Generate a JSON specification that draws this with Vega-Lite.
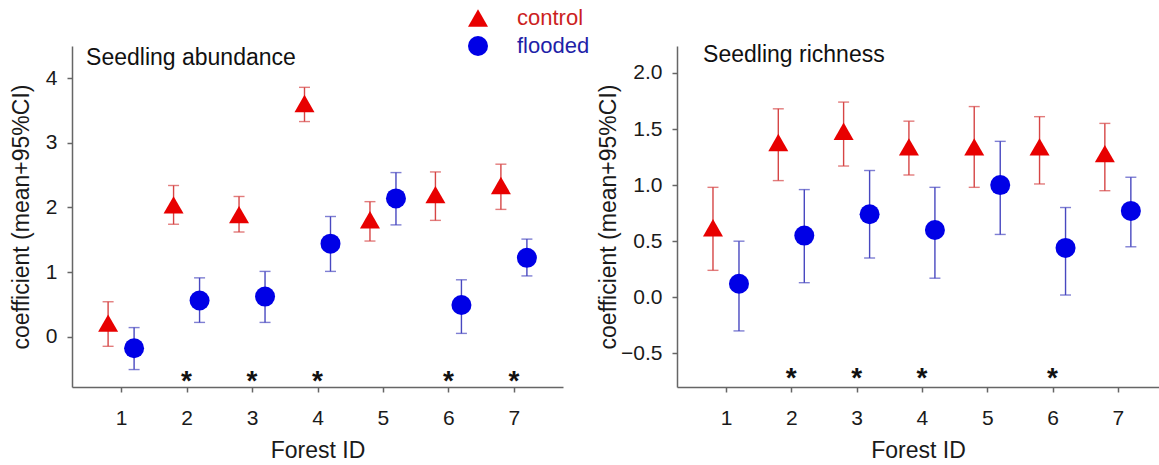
{
  "$schema": "https://vega.github.io/schema/vega-lite/v6.json",
  "padding": {"left": 10, "top": 7, "right": 0, "bottom": 0},
  "background": "white",
  "config": {
    "font": "Liberation Sans",
    "view": {"stroke": null},
    "axis": {
      "grid": false,
      "domainColor": "#666666",
      "domainWidth": 1.5,
      "tickColor": "#666666",
      "tickWidth": 1.5,
      "tickSize": 5,
      "labelFont": "Liberation Sans",
      "labelFontSize": 21,
      "labelColor": "#1a1a1a",
      "titleFont": "Liberation Sans",
      "titleFontSize": 23,
      "titleFontWeight": "normal",
      "titleColor": "#1a1a1a"
    },
    "legend": {
      "orient": "none",
      "legendX": 395,
      "legendY": -39,
      "symbolSize": 400,
      "symbolOpacity": 1,
      "labelFontSize": 22,
      "labelFont": "Liberation Sans",
      "labelOffset": 28,
      "rowPadding": 6,
      "padding": 0
    }
  },
  "datasets": {
    "abundance": [
      {"forest": 1, "group": "control", "mean": 0.21, "lo": -0.15, "hi": 0.54},
      {"forest": 2, "group": "control", "mean": 2.04, "lo": 1.74, "hi": 2.34},
      {"forest": 3, "group": "control", "mean": 1.89, "lo": 1.62, "hi": 2.17},
      {"forest": 4, "group": "control", "mean": 3.61, "lo": 3.33, "hi": 3.86},
      {"forest": 5, "group": "control", "mean": 1.81, "lo": 1.48, "hi": 2.09},
      {"forest": 6, "group": "control", "mean": 2.20, "lo": 1.80, "hi": 2.55},
      {"forest": 7, "group": "control", "mean": 2.34, "lo": 1.97, "hi": 2.67},
      {"forest": 1, "group": "flooded", "mean": -0.18, "lo": -0.51, "hi": 0.14},
      {"forest": 2, "group": "flooded", "mean": 0.56, "lo": 0.22, "hi": 0.91},
      {"forest": 3, "group": "flooded", "mean": 0.62, "lo": 0.22, "hi": 1.01},
      {"forest": 4, "group": "flooded", "mean": 1.44, "lo": 1.01, "hi": 1.86},
      {"forest": 5, "group": "flooded", "mean": 2.14, "lo": 1.73, "hi": 2.54},
      {"forest": 6, "group": "flooded", "mean": 0.49, "lo": 0.05, "hi": 0.88},
      {"forest": 7, "group": "flooded", "mean": 1.22, "lo": 0.94, "hi": 1.51}
    ],
    "richness": [
      {"forest": 1, "group": "control", "mean": 0.62, "lo": 0.24, "hi": 0.98},
      {"forest": 2, "group": "control", "mean": 1.38, "lo": 1.04, "hi": 1.68},
      {"forest": 3, "group": "control", "mean": 1.48, "lo": 1.17, "hi": 1.74},
      {"forest": 4, "group": "control", "mean": 1.34, "lo": 1.09, "hi": 1.57},
      {"forest": 5, "group": "control", "mean": 1.34, "lo": 0.98, "hi": 1.70},
      {"forest": 6, "group": "control", "mean": 1.34, "lo": 1.01, "hi": 1.61},
      {"forest": 7, "group": "control", "mean": 1.28, "lo": 0.95, "hi": 1.55},
      {"forest": 1, "group": "flooded", "mean": 0.12, "lo": -0.30, "hi": 0.50},
      {"forest": 2, "group": "flooded", "mean": 0.55, "lo": 0.13, "hi": 0.96},
      {"forest": 3, "group": "flooded", "mean": 0.74, "lo": 0.35, "hi": 1.13},
      {"forest": 4, "group": "flooded", "mean": 0.60, "lo": 0.17, "hi": 0.98},
      {"forest": 5, "group": "flooded", "mean": 1.00, "lo": 0.56, "hi": 1.39},
      {"forest": 6, "group": "flooded", "mean": 0.44, "lo": 0.02, "hi": 0.80},
      {"forest": 7, "group": "flooded", "mean": 0.77, "lo": 0.45, "hi": 1.07}
    ],
    "abundanceStars": [{"forest": 2}, {"forest": 3}, {"forest": 4}, {"forest": 6}, {"forest": 7}],
    "richnessStars": [{"forest": 2}, {"forest": 3}, {"forest": 4}, {"forest": 6}]
  },
  "spacing": 34,
  "resolve": {"scale": {"color": "shared", "shape": "shared"}},
  "hconcat": [
    {
      "width": 491,
      "height": 341,
      "data": {"name": "abundance"},
      "layer": [
        {
          "transform": [{"filter": "datum.group === 'control'"}],
          "layer": [
            {
              "mark": {"type": "rule", "strokeWidth": 1.4, "color": "#d64545", "xOffset": -13},
              "encoding": {
                "x": {"field": "forest", "type": "quantitative", "title": "Forest ID",
                      "scale": {"domain": [0.25, 7.75], "nice": false, "zero": false},
                      "axis": {"values": [1, 2, 3, 4, 5, 6, 7], "format": "d", "labelPadding": 15, "titlePadding": 11}},
                "y": {"field": "lo", "type": "quantitative", "title": "coefficient (mean+95%CI)",
                      "scale": {"domain": [-0.78, 4.5], "nice": false, "zero": false},
                      "axis": {"values": [0, 1, 2, 3, 4], "format": "d", "labelPadding": 10, "titlePadding": 12}},
                "y2": {"field": "hi"}
              }
            },
            {
              "mark": {"type": "tick", "orient": "horizontal", "size": 11, "thickness": 1.4, "color": "#d64545", "xOffset": -13},
              "encoding": {
                "x": {"field": "forest", "type": "quantitative", "title": "Forest ID"},
                "y": {"field": "lo", "type": "quantitative", "title": "coefficient (mean+95%CI)"}
              }
            },
            {
              "mark": {"type": "tick", "orient": "horizontal", "size": 11, "thickness": 1.4, "color": "#d64545", "xOffset": -13},
              "encoding": {
                "x": {"field": "forest", "type": "quantitative", "title": "Forest ID"},
                "y": {"field": "hi", "type": "quantitative", "title": "coefficient (mean+95%CI)"}
              }
            },
            {
              "mark": {"type": "point", "filled": true, "opacity": 1, "size": 400, "xOffset": -13},
              "encoding": {
                "x": {"field": "forest", "type": "quantitative", "title": "Forest ID"},
                "y": {"field": "mean", "type": "quantitative", "title": "coefficient (mean+95%CI)"},
                "color": {"field": "group", "type": "nominal", "scale": {"domain": ["control", "flooded"], "range": ["#e80000", "#0000e6"]},
                          "legend": {"title": null, "encode": {"labels": {"update": {"fill": {"signal": "datum.value === 'control' ? '#cc1f1f' : '#1f1fa8'"}}}}}},
                "shape": {"field": "group", "type": "nominal", "scale": {"domain": ["control", "flooded"], "range": ["triangle-up", "circle"]},
                          "legend": {"title": null, "encode": {"labels": {"update": {"fill": {"signal": "datum.value === 'control' ? '#cc1f1f' : '#1f1fa8'"}}}}}}
              }
            }
          ]
        },
        {
          "transform": [{"filter": "datum.group === 'flooded'"}],
          "layer": [
            {
              "mark": {"type": "rule", "strokeWidth": 1.4, "color": "#4848c0", "xOffset": 13},
              "encoding": {
                "x": {"field": "forest", "type": "quantitative", "title": "Forest ID"},
                "y": {"field": "lo", "type": "quantitative", "title": "coefficient (mean+95%CI)"},
                "y2": {"field": "hi"}
              }
            },
            {
              "mark": {"type": "tick", "orient": "horizontal", "size": 11, "thickness": 1.4, "color": "#4848c0", "xOffset": 13},
              "encoding": {
                "x": {"field": "forest", "type": "quantitative", "title": "Forest ID"},
                "y": {"field": "lo", "type": "quantitative", "title": "coefficient (mean+95%CI)"}
              }
            },
            {
              "mark": {"type": "tick", "orient": "horizontal", "size": 11, "thickness": 1.4, "color": "#4848c0", "xOffset": 13},
              "encoding": {
                "x": {"field": "forest", "type": "quantitative", "title": "Forest ID"},
                "y": {"field": "hi", "type": "quantitative", "title": "coefficient (mean+95%CI)"}
              }
            },
            {
              "mark": {"type": "point", "filled": true, "opacity": 1, "size": 400, "xOffset": 13},
              "encoding": {
                "x": {"field": "forest", "type": "quantitative", "title": "Forest ID"},
                "y": {"field": "mean", "type": "quantitative", "title": "coefficient (mean+95%CI)"},
                "color": {"field": "group", "type": "nominal",
                          "legend": {"title": null, "encode": {"labels": {"update": {"fill": {"signal": "datum.value === 'control' ? '#cc1f1f' : '#1f1fa8'"}}}}}},
                "shape": {"field": "group", "type": "nominal",
                          "legend": {"title": null, "encode": {"labels": {"update": {"fill": {"signal": "datum.value === 'control' ? '#cc1f1f' : '#1f1fa8'"}}}}}}
              }
            }
          ]
        },
        {
          "data": {"name": "abundanceStars"},
          "mark": {"type": "text", "text": "*", "fontSize": 28, "fontWeight": "bold", "baseline": "middle", "color": "#111111"},
          "encoding": {
            "x": {"field": "forest", "type": "quantitative", "title": "Forest ID"},
            "y": {"datum": -0.7}
          }
        },
        {
          "data": {"values": [{"label": "Seedling abundance"}]},
          "mark": {"type": "text", "fontSize": 23, "align": "left", "baseline": "middle", "color": "#111111"},
          "encoding": {
            "x": {"datum": 0.465},
            "y": {"datum": 4.32},
            "text": {"field": "label"}
          }
        }
      ]
    },
    {
      "width": 482,
      "height": 341,
      "data": {"name": "richness"},
      "layer": [
        {
          "transform": [{"filter": "datum.group === 'control'"}],
          "layer": [
            {
              "mark": {"type": "rule", "strokeWidth": 1.4, "color": "#d64545", "xOffset": -13},
              "encoding": {
                "x": {"field": "forest", "type": "quantitative", "title": "Forest ID",
                      "scale": {"domain": [0.25, 7.63], "nice": false, "zero": false},
                      "axis": {"values": [1, 2, 3, 4, 5, 6, 7], "format": "d", "labelPadding": 15, "titlePadding": 11}},
                "y": {"field": "lo", "type": "quantitative", "title": "coefficient (mean+95%CI)",
                      "scale": {"domain": [-0.8, 2.24], "nice": false, "zero": false},
                      "axis": {"values": [-0.5, 0, 0.5, 1, 1.5, 2], "format": ".1f", "labelPadding": 10, "titlePadding": 0}},
                "y2": {"field": "hi"}
              }
            },
            {
              "mark": {"type": "tick", "orient": "horizontal", "size": 11, "thickness": 1.4, "color": "#d64545", "xOffset": -13},
              "encoding": {
                "x": {"field": "forest", "type": "quantitative", "title": "Forest ID"},
                "y": {"field": "lo", "type": "quantitative", "title": "coefficient (mean+95%CI)"}
              }
            },
            {
              "mark": {"type": "tick", "orient": "horizontal", "size": 11, "thickness": 1.4, "color": "#d64545", "xOffset": -13},
              "encoding": {
                "x": {"field": "forest", "type": "quantitative", "title": "Forest ID"},
                "y": {"field": "hi", "type": "quantitative", "title": "coefficient (mean+95%CI)"}
              }
            },
            {
              "mark": {"type": "point", "filled": true, "opacity": 1, "size": 400, "xOffset": -13},
              "encoding": {
                "x": {"field": "forest", "type": "quantitative", "title": "Forest ID"},
                "y": {"field": "mean", "type": "quantitative", "title": "coefficient (mean+95%CI)"},
                "color": {"field": "group", "type": "nominal",
                          "legend": {"title": null, "encode": {"labels": {"update": {"fill": {"signal": "datum.value === 'control' ? '#cc1f1f' : '#1f1fa8'"}}}}}},
                "shape": {"field": "group", "type": "nominal",
                          "legend": {"title": null, "encode": {"labels": {"update": {"fill": {"signal": "datum.value === 'control' ? '#cc1f1f' : '#1f1fa8'"}}}}}}
              }
            }
          ]
        },
        {
          "transform": [{"filter": "datum.group === 'flooded'"}],
          "layer": [
            {
              "mark": {"type": "rule", "strokeWidth": 1.4, "color": "#4848c0", "xOffset": 13},
              "encoding": {
                "x": {"field": "forest", "type": "quantitative", "title": "Forest ID"},
                "y": {"field": "lo", "type": "quantitative", "title": "coefficient (mean+95%CI)"},
                "y2": {"field": "hi"}
              }
            },
            {
              "mark": {"type": "tick", "orient": "horizontal", "size": 11, "thickness": 1.4, "color": "#4848c0", "xOffset": 13},
              "encoding": {
                "x": {"field": "forest", "type": "quantitative", "title": "Forest ID"},
                "y": {"field": "lo", "type": "quantitative", "title": "coefficient (mean+95%CI)"}
              }
            },
            {
              "mark": {"type": "tick", "orient": "horizontal", "size": 11, "thickness": 1.4, "color": "#4848c0", "xOffset": 13},
              "encoding": {
                "x": {"field": "forest", "type": "quantitative", "title": "Forest ID"},
                "y": {"field": "hi", "type": "quantitative", "title": "coefficient (mean+95%CI)"}
              }
            },
            {
              "mark": {"type": "point", "filled": true, "opacity": 1, "size": 400, "xOffset": 13},
              "encoding": {
                "x": {"field": "forest", "type": "quantitative", "title": "Forest ID"},
                "y": {"field": "mean", "type": "quantitative", "title": "coefficient (mean+95%CI)"},
                "color": {"field": "group", "type": "nominal",
                          "legend": {"title": null, "encode": {"labels": {"update": {"fill": {"signal": "datum.value === 'control' ? '#cc1f1f' : '#1f1fa8'"}}}}}},
                "shape": {"field": "group", "type": "nominal",
                          "legend": {"title": null, "encode": {"labels": {"update": {"fill": {"signal": "datum.value === 'control' ? '#cc1f1f' : '#1f1fa8'"}}}}}}
              }
            }
          ]
        },
        {
          "data": {"name": "richnessStars"},
          "mark": {"type": "text", "text": "*", "fontSize": 28, "fontWeight": "bold", "baseline": "middle", "color": "#111111"},
          "encoding": {
            "x": {"field": "forest", "type": "quantitative", "title": "Forest ID"},
            "y": {"datum": -0.73}
          }
        },
        {
          "data": {"values": [{"label": "Seedling richness"}]},
          "mark": {"type": "text", "fontSize": 23, "align": "left", "baseline": "middle", "color": "#111111"},
          "encoding": {
            "x": {"datum": 0.65},
            "y": {"datum": 2.16},
            "text": {"field": "label"}
          }
        }
      ]
    }
  ]
}
